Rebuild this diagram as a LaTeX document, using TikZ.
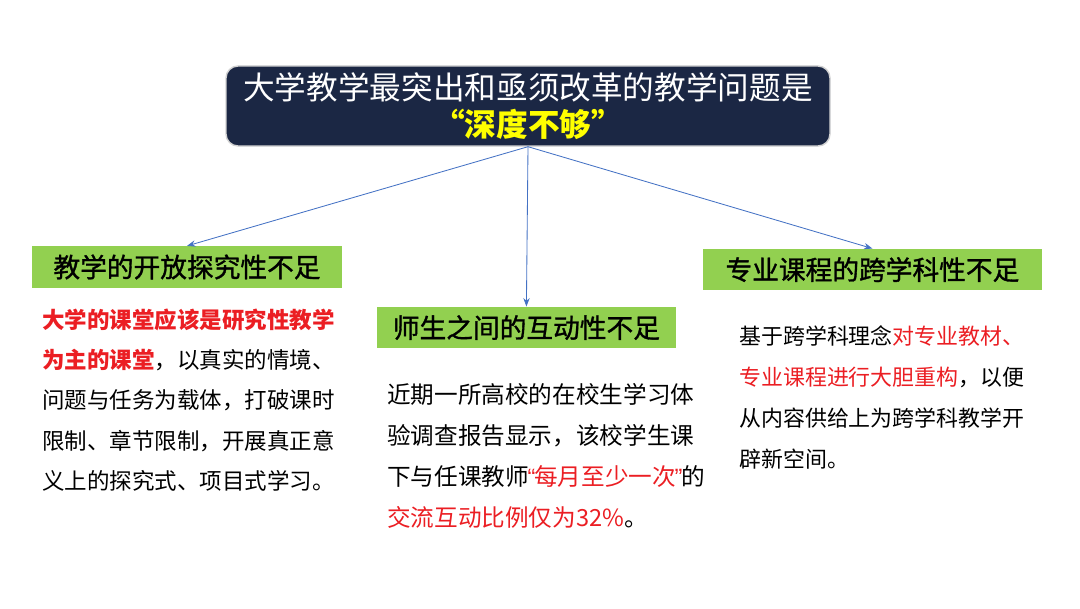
\documentclass[tikz,border=0pt]{standalone}
\usepackage{fontspec}
\setmainfont{Noto Sans CJK SC}
\newfontfamily\headfont[FakeBold=1.2]{Noto Sans CJK SC}
\newfontfamily\latinfont{Liberation Sans}
\usepackage{xcolor}
\usetikzlibrary{arrows.meta, positioning, calc}

\definecolor{navy}{RGB}{27,39,68}
\definecolor{leafgreen}{RGB}{146,208,80}
\definecolor{linkblue}{RGB}{68,114,196}
\definecolor{hotred}{RGB}{235,30,35}
\definecolor{titleyellow}{RGB}{255,255,0}

% narrow quote marks inside a line of CJK text
\newcommand{\slimquote}[1]{\makebox[0.22em]{\latinfont #1}}

\tikzset{
    titlebox/.style={fill=navy, draw=gray!35, line width=1pt, rounded corners=0.3cm,
        minimum width=15.1cm, minimum height=2cm, align=center, text=white,
        font=\fontsize{22.5}{26.3}\selectfont},
    headbox/.style={fill=leafgreen, minimum height=1.04cm, inner sep=0pt,
        font=\headfont\fontsize{19}{22}\selectfont},
    bodytext/.style={anchor=north west, align=left, inner sep=0pt},
    link/.style={linkblue, line width=0.6pt, -{Stealth[length=6pt, width=4.5pt]}}
}

\begin{document}
\begin{tikzpicture}
    \useasboundingbox (0,0) rectangle (27,15.2);

    \node[titlebox] (Top) at (13.2,12.55)
        {大学教学最突出和亟须改革的教学问题是\\
         {\bfseries\color{titleyellow}“深度不够”}};

    \node[headbox, minimum width=7.75cm] (Open) at (4.675,8.525) {教学的开放探究性不足};
    \node[headbox, minimum width=7.475cm] (Talk) at (13.16,7.01) {师生之间的互动性不足};
    \node[headbox, minimum width=8.475cm] (Cross) at (21.81,8.46) {专业课程的跨学科性不足};

    \draw[link] (Top.south) -- (Open.north);
    \draw[link] (Top.south) -- (Talk.north);
    \draw[link] (Top.south) -- (Cross.north);

    % texts under the three headings
    \node[bodytext, font=\fontsize{16}{28.5}\selectfont] (OpenText) at (1.05,7.475)
        {{\bfseries\color{hotred}大学的课堂应该是研究性教学}\\
         {\bfseries\color{hotred}为主的课堂}，以真实的情境、\\
         问题与任务为载体，打破课时\\
         限制、章节限制，开展真正意\\
         义上的探究式、项目式学习。};
    \node[bodytext, font=\fontsize{16.8}{29.2}\selectfont] (TalkText) at (9.675,5.625)
        {近期一所高校的在校生学习体\\
         验调查报告显示，该校学生课\\
         下与任课教师{\color{hotred}\slimquote{“}每月至少一次\slimquote{”}}的\\
         {\color{hotred}交流互动比例仅为32\%}。};
    \node[bodytext, font=\fontsize{15.6}{29.2}\selectfont] (CrossText) at (18.475,7.075)
        {基于跨学科理念{\color{hotred}对专业教材、}\\
         {\color{hotred}专业课程进行大胆重构}，以便\\
         从内容供给上为跨学科教学开\\
         辟新空间。};
\end{tikzpicture}
\end{document}
